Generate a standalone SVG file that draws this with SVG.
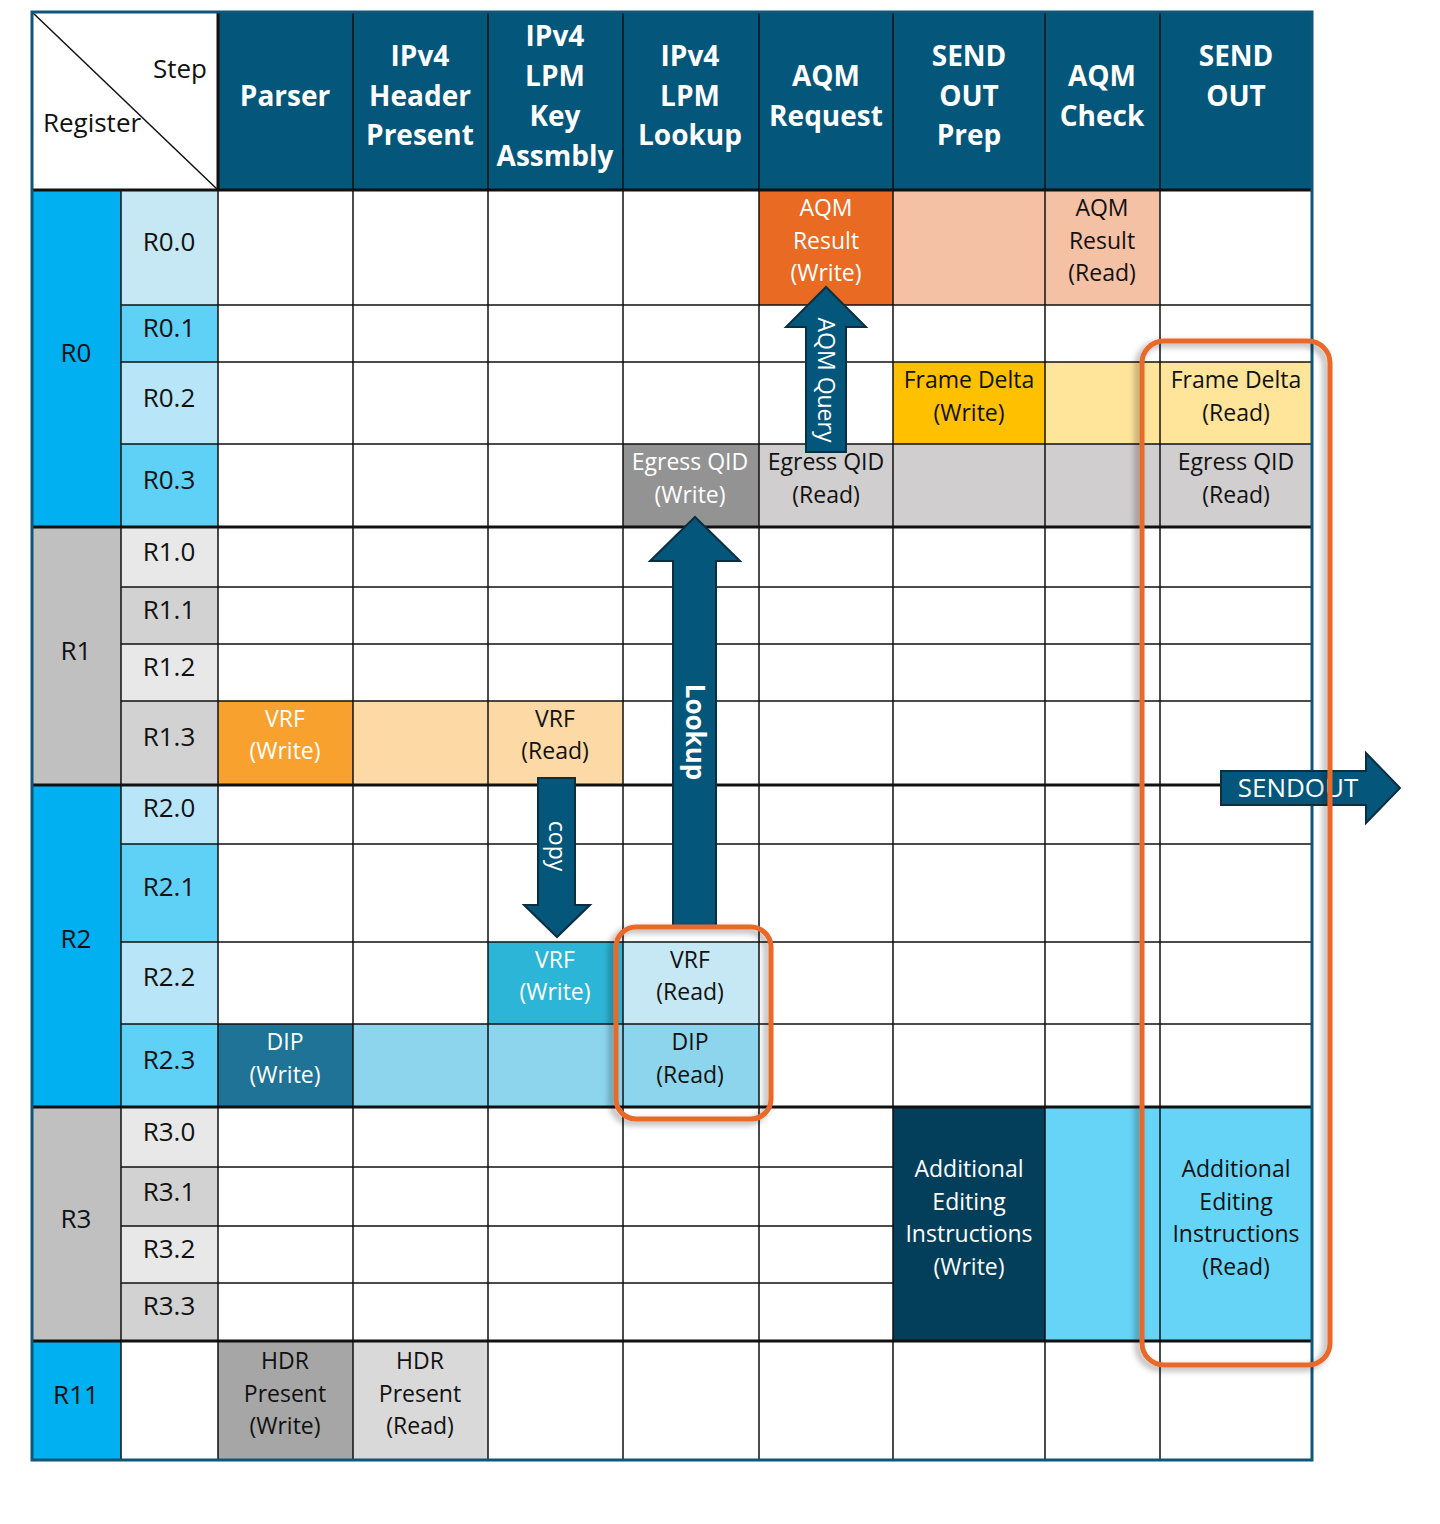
<svg xmlns="http://www.w3.org/2000/svg" width="1440" height="1524" viewBox="0 0 1440 1524">
<style>
text{font-family:"Open Sans","Noto Sans","Liberation Sans",sans-serif;text-anchor:middle}
.h{fill:#fff;font-weight:bold;font-size:28px}
.t{font-size:23px;fill:#111}
.w{font-size:23px;fill:#fff}
.g{stroke:#111;stroke-width:1.5;fill:none}
.gb{stroke:#111;stroke-width:3;fill:none}
.arr{fill:#04567a;stroke:#0b2f40;stroke-width:2}
.hl{fill:none;stroke:#e8692a;stroke-width:5}
</style>
<defs><filter id="sh" x="-10%" y="-10%" width="120%" height="120%"><feDropShadow dx="-4" dy="3" stdDeviation="3" flood-color="#000" flood-opacity="0.35"/></filter></defs>
<rect x="32" y="12" width="1280" height="1448" fill="#fff"/>
<g id="header">
<rect x="218" y="12" width="1094" height="178" fill="#04567a"/>
<text class="h" x="285" y="106">Parser</text>
<text class="h" x="420" y="66">IPv4</text><text class="h" x="420" y="106">Header</text><text class="h" x="420" y="145">Present</text>
<text class="h" x="555" y="46">IPv4</text><text class="h" x="555" y="86">LPM</text><text class="h" x="555" y="126">Key</text><text class="h" x="555" y="166">Assmbly</text>
<text class="h" x="690" y="66">IPv4</text><text class="h" x="690" y="106">LPM</text><text class="h" x="690" y="145">Lookup</text>
<text class="h" x="826" y="86">AQM</text><text class="h" x="826" y="126">Request</text>
<text class="h" x="969" y="66">SEND</text><text class="h" x="969" y="106">OUT</text><text class="h" x="969" y="145">Prep</text>
<text class="h" x="1102" y="86">AQM</text><text class="h" x="1102" y="126">Check</text>
<text class="h" x="1236" y="66">SEND</text><text class="h" x="1236" y="106">OUT</text>
<line x1="32" y1="12" x2="218" y2="190" stroke="#111" stroke-width="1.5"/>
<text class="t" x="180" y="78" style="font-size:26px">Step</text>
<text class="t" x="92" y="132" style="font-size:26px">Register</text>
</g>
<g id="registers">
<rect x="32" y="190" width="89" height="337" fill="#00b0f0"/>
<rect x="32" y="527" width="89" height="258" fill="#c0c0c0"/>
<rect x="32" y="785" width="89" height="322" fill="#00b0f0"/>
<rect x="32" y="1107" width="89" height="234" fill="#c0c0c0"/>
<rect x="32" y="1341" width="89" height="119" fill="#00b0f0"/>
<rect x="121" y="190" width="97" height="115" fill="#c5e8f4"/>
<rect x="121" y="305" width="97" height="57" fill="#5fd0f6"/>
<rect x="121" y="362" width="97" height="82" fill="#b8e6f8"/>
<rect x="121" y="444" width="97" height="83" fill="#5fd0f6"/>
<rect x="121" y="527" width="97" height="60" fill="#e8e8e8"/>
<rect x="121" y="587" width="97" height="57" fill="#d2d2d2"/>
<rect x="121" y="644" width="97" height="57" fill="#e8e8e8"/>
<rect x="121" y="701" width="97" height="84" fill="#d2d2d2"/>
<rect x="121" y="785" width="97" height="59" fill="#b8e6f8"/>
<rect x="121" y="844" width="97" height="98" fill="#5fd0f6"/>
<rect x="121" y="942" width="97" height="82" fill="#b8e6f8"/>
<rect x="121" y="1024" width="97" height="83" fill="#5fd0f6"/>
<rect x="121" y="1107" width="97" height="60" fill="#e8e8e8"/>
<rect x="121" y="1167" width="97" height="59" fill="#d2d2d2"/>
<rect x="121" y="1226" width="97" height="57" fill="#e8e8e8"/>
<rect x="121" y="1283" width="97" height="58" fill="#d2d2d2"/>
<text class="t" x="76" y="362" style="font-size:26px">R0</text>
<text class="t" x="76" y="660" style="font-size:26px">R1</text>
<text class="t" x="76" y="948" style="font-size:26px">R2</text>
<text class="t" x="76" y="1228" style="font-size:26px">R3</text>
<text class="t" x="76" y="1404" style="font-size:26px">R11</text>
<g style="font-size:26px">
<text class="t" x="169" y="251" style="font-size:26px">R0.0</text>
<text class="t" x="169" y="337" style="font-size:26px">R0.1</text>
<text class="t" x="169" y="407" style="font-size:26px">R0.2</text>
<text class="t" x="169" y="489" style="font-size:26px">R0.3</text>
<text class="t" x="169" y="561" style="font-size:26px">R1.0</text>
<text class="t" x="169" y="619" style="font-size:26px">R1.1</text>
<text class="t" x="169" y="676" style="font-size:26px">R1.2</text>
<text class="t" x="169" y="746" style="font-size:26px">R1.3</text>
<text class="t" x="169" y="817" style="font-size:26px">R2.0</text>
<text class="t" x="169" y="896" style="font-size:26px">R2.1</text>
<text class="t" x="169" y="986" style="font-size:26px">R2.2</text>
<text class="t" x="169" y="1069" style="font-size:26px">R2.3</text>
<text class="t" x="169" y="1141" style="font-size:26px">R3.0</text>
<text class="t" x="169" y="1201" style="font-size:26px">R3.1</text>
<text class="t" x="169" y="1258" style="font-size:26px">R3.2</text>
<text class="t" x="169" y="1315" style="font-size:26px">R3.3</text>
</g>
</g>
<g id="cells">
<rect x="759" y="190" width="134" height="115" fill="#e86a23"/>
<rect x="893" y="190" width="267" height="115" fill="#f4c1a5"/>
<rect x="893" y="362" width="152" height="82" fill="#ffc000"/>
<rect x="1045" y="362" width="267" height="82" fill="#ffe59a"/>
<rect x="623" y="444" width="136" height="83" fill="#939393"/>
<rect x="759" y="444" width="553" height="83" fill="#d0cece"/>
<rect x="218" y="701" width="135" height="84" fill="#f9a12e"/>
<rect x="353" y="701" width="270" height="84" fill="#fdd9a6"/>
<rect x="488" y="942" width="135" height="82" fill="#2cb5d6"/>
<rect x="623" y="942" width="136" height="82" fill="#c5e8f4"/>
<rect x="218" y="1024" width="135" height="83" fill="#1f7396"/>
<rect x="353" y="1024" width="406" height="83" fill="#8dd5ec"/>
<rect x="893" y="1107" width="152" height="234" fill="#033f5a"/>
<rect x="1045" y="1107" width="267" height="234" fill="#66d4f7"/>
<rect x="218" y="1341" width="135" height="119" fill="#a6a6a6"/>
<rect x="353" y="1341" width="135" height="119" fill="#d9d9d9"/>
<text class="w" x="826" y="216">AQM</text><text class="w" x="826" y="249">Result</text><text class="w" x="826" y="281">(Write)</text>
<text class="t" x="1102" y="216">AQM</text><text class="t" x="1102" y="249">Result</text><text class="t" x="1102" y="281">(Read)</text>
<text class="t" x="969" y="388">Frame Delta</text><text class="t" x="969" y="421">(Write)</text>
<text class="t" x="1236" y="388">Frame Delta</text><text class="t" x="1236" y="421">(Read)</text>
<text class="w" x="690" y="470">Egress QID</text><text class="w" x="690" y="503">(Write)</text>
<text class="t" x="826" y="470">Egress QID</text><text class="t" x="826" y="503">(Read)</text>
<text class="t" x="1236" y="470">Egress QID</text><text class="t" x="1236" y="503">(Read)</text>
<text class="w" x="285" y="727">VRF</text><text class="w" x="285" y="759">(Write)</text>
<text class="t" x="555" y="727">VRF</text><text class="t" x="555" y="759">(Read)</text>
<text class="w" x="555" y="968">VRF</text><text class="w" x="555" y="1000">(Write)</text>
<text class="t" x="690" y="968">VRF</text><text class="t" x="690" y="1000">(Read)</text>
<text class="w" x="285" y="1050">DIP</text><text class="w" x="285" y="1083">(Write)</text>
<text class="t" x="690" y="1050">DIP</text><text class="t" x="690" y="1083">(Read)</text>
<text class="w" x="969" y="1177">Additional</text><text class="w" x="969" y="1210">Editing</text><text class="w" x="969" y="1242">Instructions</text><text class="w" x="969" y="1275">(Write)</text>
<text class="t" x="1236" y="1177">Additional</text><text class="t" x="1236" y="1210">Editing</text><text class="t" x="1236" y="1242">Instructions</text><text class="t" x="1236" y="1275">(Read)</text>
<text class="t" x="285" y="1369">HDR</text><text class="t" x="285" y="1402">Present</text><text class="t" x="285" y="1434">(Write)</text>
<text class="t" x="420" y="1369">HDR</text><text class="t" x="420" y="1402">Present</text><text class="t" x="420" y="1434">(Read)</text>
</g>
<g id="grid">
<path class="g" d="M121 190V1460M218 12V1460M353 12V1460M488 12V1460M623 12V1460M759 12V1460M893 12V1460M1045 12V1460M1160 12V1460"/>
<path class="g" d="M121 305H1312M121 362H1312M121 444H1312M121 587H1312M121 644H1312M121 701H1312M121 844H1312M121 942H1312M121 1024H1312M121 1167H893M121 1226H893M121 1283H893"/>
<path class="gb" d="M32 190H1312M32 527H1312M32 785H1312M32 1107H1312M32 1341H1312M218 12V190"/>
<rect x="32" y="12" width="1280" height="1448" fill="none" stroke="#0f5778" stroke-width="3"/>
</g>
<g id="connectors">
<path class="arr" d="M806 452V327H786L826 287L866 327H846V452Z"/>
<text x="0" y="0" transform="translate(818,380) rotate(90)" style="fill:#fff;font-size:23px">AQM Query</text>
<path class="arr" d="M673 926V561H650L695 517L740 561H716V926Z"/>
<text x="0" y="0" transform="translate(686,732) rotate(90)" style="fill:#fff;font-size:26px;font-weight:bold">Lookup</text>
<path class="arr" d="M538 778V905H524L557 937L590 905H575V778Z"/>
<text x="0" y="0" transform="translate(549,846) rotate(90)" style="fill:#fff;font-size:23px">copy</text>
<path class="arr" d="M1221 771H1366V753L1400 788L1366 823V805H1221Z"/>
<text x="1298" y="797" style="fill:#fff;font-size:26px">SENDOUT</text>
</g>
<g id="highlights">
<rect class="hl" x="616" y="927" width="155" height="192" rx="20" filter="url(#sh)"/>
<rect class="hl" x="1142" y="341" width="188" height="1024" rx="22" filter="url(#sh)"/>
</g>
</svg>
